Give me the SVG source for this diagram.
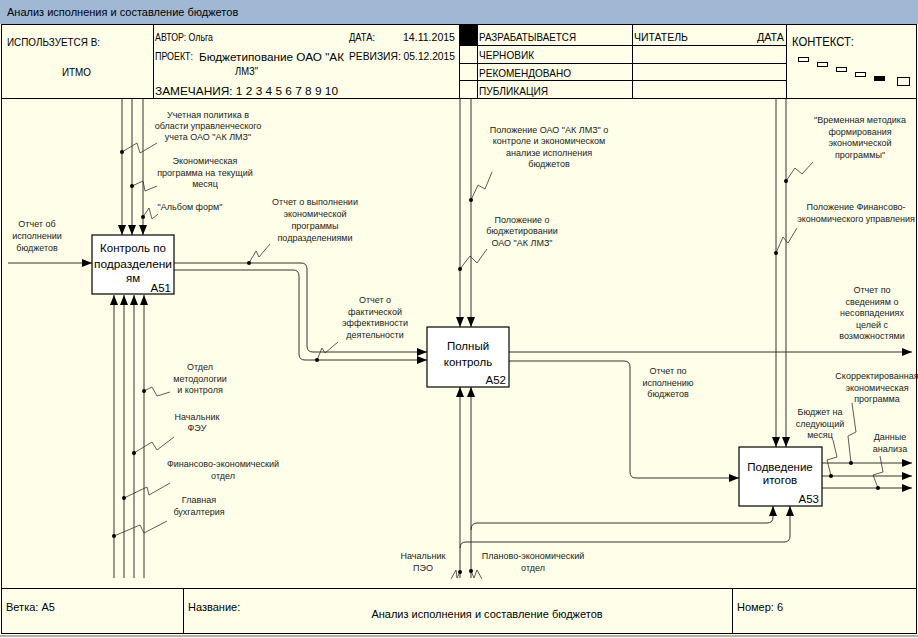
<svg xmlns="http://www.w3.org/2000/svg" width="918" height="638" viewBox="0 0 918 638">
<defs>
<marker id="ah" viewBox="0 0 10 8" refX="10" refY="4" markerWidth="10" markerHeight="8" markerUnits="userSpaceOnUse" orient="auto"><path d="M0,0 L10,4 L0,8 z" fill="#000"/></marker>
<style>
.hd{font-family:"Liberation Sans",Arial,sans-serif;font-size:11px;fill:#000}
.nt{font-family:"Liberation Sans",Arial,sans-serif;font-size:11.5px;fill:#000}
.lb{font-family:"Liberation Sans",Arial,sans-serif;font-size:9px;fill:#222;text-anchor:middle}
.fr{fill:none;stroke:#000;stroke-width:1}
.box{fill:#fff;stroke:#000;stroke-width:1.2}
.cn{fill:none;stroke:#333;stroke-width:1}
.ar{marker-end:url(#ah)}
.ld{fill:none;stroke:#333;stroke-width:0.8}
.dt{fill:#000}
</style>
</defs>
<rect x="0" y="0" width="918" height="638" fill="#ffffe9"/>
<rect x="0" y="0" width="918" height="24" fill="#a0b8d4"/>
<text class="hd" x="7" y="16">Анализ исполнения и составление бюджетов</text>

<g id="header">
<rect class="fr" x="1.5" y="24.5" width="915" height="74"/>
<line class="fr" x1="153.5" y1="24.5" x2="153.5" y2="98.5"/>
<line class="fr" x1="459.5" y1="24.5" x2="459.5" y2="98.5"/>
<line class="fr" x1="477.5" y1="24.5" x2="477.5" y2="98.5"/>
<line class="fr" x1="632.5" y1="24.5" x2="632.5" y2="98.5"/>
<line class="fr" x1="786.5" y1="24.5" x2="786.5" y2="98.5"/>
<line class="fr" x1="459.5" y1="45.5" x2="786.5" y2="45.5"/>
<line class="fr" x1="459.5" y1="63.5" x2="786.5" y2="63.5"/>
<line class="fr" x1="459.5" y1="80.5" x2="786.5" y2="80.5"/>
<rect x="460" y="25" width="17" height="20" fill="#000"/>
<text class="hd" x="7" y="46" textLength="93" lengthAdjust="spacingAndGlyphs">ИСПОЛЬЗУЕТСЯ В:</text>
<text class="hd" x="62" y="76" textLength="29" lengthAdjust="spacingAndGlyphs">ИТМО</text>
<text class="hd" x="155" y="41" textLength="58" lengthAdjust="spacingAndGlyphs">АВТОР: Ольга</text>
<text class="hd" x="349" y="41" textLength="26" lengthAdjust="spacingAndGlyphs">ДАТА:</text>
<text class="hd" x="403" y="41" textLength="52" lengthAdjust="spacingAndGlyphs">14.11.2015</text>
<text class="hd" x="155" y="60" textLength="38" lengthAdjust="spacingAndGlyphs">ПРОЕКТ:</text>
<text class="hd" x="199" y="61" textLength="145" lengthAdjust="spacingAndGlyphs">Бюджетипование ОАО "АК</text>
<text class="hd" x="235" y="75" textLength="23" lengthAdjust="spacingAndGlyphs">ЛМЗ"</text>
<text class="hd" x="349" y="60" textLength="106" lengthAdjust="spacingAndGlyphs">РЕВИЗИЯ: 05.12.2015</text>
<text class="hd" x="155" y="95" textLength="183" lengthAdjust="spacingAndGlyphs">ЗАМЕЧАНИЯ:  1  2  3  4  5  6  7  8  9  10</text>
<text class="hd" x="479" y="41" textLength="97" lengthAdjust="spacingAndGlyphs">РАЗРАБАТЫВАЕТСЯ</text>
<text class="hd" x="479" y="59" textLength="55" lengthAdjust="spacingAndGlyphs">ЧЕРНОВИК</text>
<text class="hd" x="479" y="77" textLength="92" lengthAdjust="spacingAndGlyphs">РЕКОМЕНДОВАНО</text>
<text class="hd" x="479" y="95" textLength="69" lengthAdjust="spacingAndGlyphs">ПУБЛИКАЦИЯ</text>
<text class="hd" x="634" y="41" textLength="54" lengthAdjust="spacingAndGlyphs">ЧИТАТЕЛЬ</text>
<text class="hd" x="757" y="41" textLength="27" lengthAdjust="spacingAndGlyphs">ДАТА</text>
<text class="hd" x="792" y="46" style="font-size:13px" textLength="62" lengthAdjust="spacingAndGlyphs">КОНТЕКСТ:</text>
<rect class="fr" x="798.5" y="57.5" width="10" height="4"/>
<rect class="fr" x="817.5" y="62.5" width="10" height="4"/>
<rect class="fr" x="836.5" y="67.5" width="10" height="4"/>
<rect class="fr" x="855.5" y="72.5" width="10" height="4"/>
<rect x="874" y="76" width="11" height="5" fill="#000"/>
<rect class="fr" x="897.5" y="77.5" width="12" height="8"/>
</g>

<g id="frame">
<line class="fr" x1="1.5" y1="98" x2="1.5" y2="588"/>
<line class="fr" x1="916.5" y1="98" x2="916.5" y2="588"/>
</g>

<g id="connectors">
<path class="cn ar" d="M122,99 V235"/>
<path class="cn ar" d="M132,99 V235"/>
<path class="cn ar" d="M143,99 V235"/>
<path class="cn ar" d="M8,263 H92"/>
<path class="cn ar" d="M114,578 V295"/>
<path class="cn ar" d="M124,578 V295"/>
<path class="cn ar" d="M134,578 V295"/>
<path class="cn ar" d="M144,578 V295"/>
<path class="cn ar" d="M174,263 H301 Q307,263 307,269 V346 Q307,352 313,352 H427"/>
<path class="cn ar" d="M174,270 H293 Q299,270 299,276 V354 Q299,360 305,360 H427"/>
<path class="cn ar" d="M460,99 V327"/>
<path class="cn ar" d="M471,99 V327"/>
<path class="cn ar" d="M460,578 V387"/>
<path class="cn ar" d="M471,578 V387"/>
<path class="cn ar" d="M509,352 H912"/>
<path class="cn ar" d="M509,361 H624 Q630,361 630,367 V472 Q630,478 636,478 H739"/>
<path class="cn ar" d="M471,530 Q471,523 477,523 H767 Q773,523 773,517 V506"/>
<path class="cn ar" d="M460,548 Q460,542 466,542 H784 Q790,542 790,536 V506"/>
<path class="cn ar" d="M776,99 V447"/>
<path class="cn ar" d="M786,99 V447"/>
<path class="cn ar" d="M822,463 H912"/>
<path class="cn ar" d="M822,476 H912"/>
<path class="cn ar" d="M822,488 H912"/>
</g>

<g id="leaders">
<polyline class="ld" points="122,152 137,143 140,153 157,143"/><circle class="dt" cx="122" cy="152" r="2"/>
<polyline class="ld" points="132,186 143,181 145,191 157,186"/><circle class="dt" cx="132" cy="186" r="2"/>
<polyline class="ld" points="143,217 149,208 152,219 158,214"/><circle class="dt" cx="143" cy="217" r="2"/>
<polyline class="ld" points="249,263 256,251 259,257 270,244"/><circle class="dt" cx="249" cy="263" r="2"/>
<polyline class="ld" points="317,360 322,348 325,353 338,342"/><circle class="dt" cx="317" cy="360" r="2"/>
<polyline class="ld" points="471,200 478,185 485,189 492,172"/><circle class="dt" cx="471" cy="200" r="2"/>
<polyline class="ld" points="460,269 470,256 477,263 487,249"/><circle class="dt" cx="460" cy="269" r="2"/>
<polyline class="ld" points="786,181 795,168 802,174 813,162"/><circle class="dt" cx="786" cy="181" r="2"/>
<polyline class="ld" points="776,253 783,237 788,243 797,228"/><circle class="dt" cx="776" cy="253" r="2"/>
<polyline class="ld" points="851,463 848,436 856,432 852,403"/><circle class="dt" cx="851" cy="463" r="2"/>
<polyline class="ld" points="831,476 827,460 837,457 833,440"/><circle class="dt" cx="831" cy="476" r="2"/>
<polyline class="ld" points="878,488 873,475 883,472 880,456"/><circle class="dt" cx="878" cy="488" r="2"/>
<polyline class="ld" points="144,391 152,387 157,396 170,392"/><circle class="dt" cx="144" cy="391" r="2"/>
<polyline class="ld" points="134,453 152,442 157,450 174,437"/><circle class="dt" cx="134" cy="453" r="2"/>
<polyline class="ld" points="124,498 147,487 149,495 170,483"/><circle class="dt" cx="124" cy="498" r="2"/>
<polyline class="ld" points="114,536 140,525 144,533 167,521"/><circle class="dt" cx="114" cy="536" r="2"/>
<polyline class="ld" points="460,572 457,578 456,570 451,579"/><circle class="dt" cx="460" cy="572" r="2"/>
<polyline class="ld" points="471,571 474,578 477,570 482,579"/><circle class="dt" cx="471" cy="571" r="2"/>
</g>

<g id="labels">
<text class="lb" x="208" y="118"><tspan x="208">Учетная политика в</tspan><tspan x="208" dy="11">области управленческого</tspan><tspan x="208" dy="11">учета ОАО "АК ЛМЗ"</tspan></text>
<text class="lb" x="205" y="164"><tspan x="205">Экономическая</tspan><tspan x="205" dy="11.5">программа на текущий</tspan><tspan x="205" dy="11.5">месяц</tspan></text>
<text class="lb" x="190" y="210">"Альбом форм"</text>
<text class="lb" x="37" y="227"><tspan x="37">Отчет об</tspan><tspan x="37" dy="12">исполнении</tspan><tspan x="37" dy="12">бюджетов</tspan></text>
<text class="lb" x="315" y="205"><tspan x="315">Отчет о выполнении</tspan><tspan x="315" dy="12">экономической</tspan><tspan x="315" dy="12">программы</tspan><tspan x="315" dy="12">подразделениями</tspan></text>
<text class="lb" x="375" y="303"><tspan x="375">Отчет о</tspan><tspan x="375" dy="11.5">фактической</tspan><tspan x="375" dy="11.5">эффективности</tspan><tspan x="375" dy="11.5">деятельности</tspan></text>
<text class="lb" x="549" y="132.5"><tspan x="549">Положение ОАО "АК ЛМЗ" о</tspan><tspan x="549" dy="11.5">контроле и экономическом</tspan><tspan x="549" dy="11.5">анализе исполнения</tspan><tspan x="549" dy="11.5">бюджетов</tspan></text>
<text class="lb" x="522" y="222.5"><tspan x="522">Положение о</tspan><tspan x="522" dy="11.5">бюджетировании</tspan><tspan x="522" dy="11.5">ОАО "АК ЛМЗ"</tspan></text>
<text class="lb" x="860" y="123"><tspan x="860">"Временная методика</tspan><tspan x="860" dy="11.5">формирования</tspan><tspan x="860" dy="11.5">экономической</tspan><tspan x="860" dy="11.5">программы"</tspan></text>
<text class="lb" x="856" y="210"><tspan x="856">Положение Финансово-</tspan><tspan x="856" dy="12">экономического управления</tspan></text>
<text class="lb" x="872" y="293"><tspan x="872">Отчет по</tspan><tspan x="872" dy="11.5">сведениям о</tspan><tspan x="872" dy="11.5">несовпадениях</tspan><tspan x="872" dy="11.5">целей с</tspan><tspan x="872" dy="11.5">возможностями</tspan></text>
<text class="lb" x="668" y="374"><tspan x="668">Отчет по</tspan><tspan x="668" dy="11.5">исполнению</tspan><tspan x="668" dy="11.5">бюджетов</tspan></text>
<text class="lb" x="877" y="379"><tspan x="877">Скорректированная</tspan><tspan x="877" dy="11.5">экономическая</tspan><tspan x="877" dy="11.5">программа</tspan></text>
<text class="lb" x="820" y="415"><tspan x="820">Бюджет на</tspan><tspan x="820" dy="11.5">следующий</tspan><tspan x="820" dy="11.5">месяц</tspan></text>
<text class="lb" x="890" y="440"><tspan x="890">Данные</tspan><tspan x="890" dy="11.5">анализа</tspan></text>
<text class="lb" x="200" y="370"><tspan x="200">Отдел</tspan><tspan x="200" dy="11.5">методологии</tspan><tspan x="200" dy="11.5">и контроля</tspan></text>
<text class="lb" x="197" y="420"><tspan x="197">Начальник</tspan><tspan x="197" dy="11">ФЭУ</tspan></text>
<text class="lb" x="223" y="466.5"><tspan x="223">Финансово-экономический</tspan><tspan x="223" dy="12.5">отдел</tspan></text>
<text class="lb" x="199" y="503"><tspan x="199">Главная</tspan><tspan x="199" dy="12">бухгалтерия</tspan></text>
<text class="lb" x="423" y="559"><tspan x="423">Начальник</tspan><tspan x="423" dy="12">ПЭО</tspan></text>
<text class="lb" x="533" y="559"><tspan x="533">Планово-экономический</tspan><tspan x="533" dy="12">отдел</tspan></text>
</g>

<g id="A51">
<rect class="box" x="92" y="235" width="82" height="59"/>
<text class="nt" x="133" y="252" text-anchor="middle">Контроль по</text>
<text class="nt" x="133" y="268" text-anchor="middle" textLength="78" lengthAdjust="spacingAndGlyphs">подразделени</text>
<text class="nt" x="133" y="282" text-anchor="middle">ям</text>
<text class="nt" x="171" y="292" text-anchor="end">A51</text>
</g>
<g id="A52">
<rect class="box" x="427" y="327" width="82" height="60"/>
<text class="nt" x="468" y="350" text-anchor="middle">Полный</text>
<text class="nt" x="468" y="366" text-anchor="middle">контроль</text>
<text class="nt" x="506" y="384" text-anchor="end">A52</text>
</g>
<g id="A53">
<rect class="box" x="739" y="447" width="83" height="59"/>
<text class="nt" x="780" y="471" text-anchor="middle">Подведение</text>
<text class="nt" x="780" y="484" text-anchor="middle">итогов</text>
<text class="nt" x="819" y="503" text-anchor="end">A53</text>
</g>

<g id="footer">
<rect class="fr" x="1.5" y="588.5" width="915" height="45"/>
<line class="fr" x1="183.5" y1="588.5" x2="183.5" y2="633.5"/>
<line class="fr" x1="732.5" y1="588.5" x2="732.5" y2="633.5"/>
<line x1="0" y1="636" x2="918" y2="636" stroke="#999" stroke-width="1.5"/>
<text class="hd" x="6" y="611">Ветка: A5</text>
<text class="hd" x="188" y="611">Название:</text>
<text class="hd" x="487" y="618" text-anchor="middle">Анализ исполнения и составление бюджетов</text>
<text class="hd" x="737" y="611">Номер: 6</text>
</g>
</svg>
